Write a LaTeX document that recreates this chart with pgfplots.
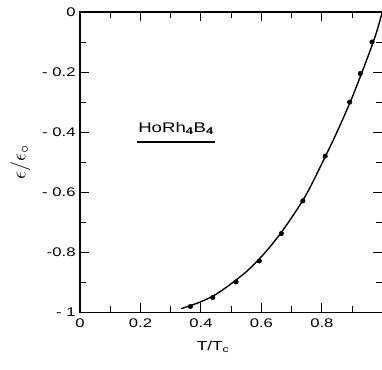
\documentclass[border=0pt]{standalone}
\usepackage{pgfplots}
\pgfplotsset{compat=1.18}
\usepackage{graphicx}
\usepackage{fontspec}
\setmainfont{Liberation Sans}[FakeStretch=1.33]
\begin{document}
\begin{tikzpicture}
\begin{axis}[
  scale only axis, width=302pt, height=300pt,
  xmin=0, xmax=1, ymin=-1, ymax=0,
  xtick={0,0.2,0.4,0.6,0.8,1}, xticklabels={0,0.2,0.4,0.6,0.8,},
  ytick={-1,-0.8,-0.6,-0.4,-0.2,0},
  yticklabels={- 1,-0.8,- 0.6,- 0.4,- 0.2,0},
  minor x tick num=1, minor y tick num=1,
  tick align=inside,
  major tick length=9pt, minor tick length=6pt,
  axis line style={line width=1.3pt},
  tick style={line width=1pt, black},
  ticklabel style={font=\fontsize{12.5}{14}\selectfont},
  xticklabel style={yshift=-3pt},
  yticklabel style={xshift=-1pt},
  xlabel={T/T\textsubscript{c}},
  xlabel style={at={(ticklabel cs:0.44)}, anchor=north, font=\fontsize{13}{15}\selectfont, yshift=-7pt},
  ylabel={\scalebox{2}{$\epsilon/\epsilon_{\circ}$}},
  ylabel style={yshift=5pt},
]
\addplot[black, line width=1.4pt, smooth, tension=0.5] coordinates {
(0.335,-0.988) (0.40,-0.965) (0.45,-0.94) (0.5,-0.905) (0.55,-0.865)
(0.6,-0.815) (0.65,-0.755) (0.7,-0.685) (0.75,-0.605) (0.8,-0.505)
(0.85,-0.40) (0.9,-0.285) (0.95,-0.155) (0.98,-0.07) (1.0,0)
};
\addplot[only marks, mark=*, mark size=2.3pt, black] coordinates {
(0.365,-0.981) (0.439,-0.951) (0.516,-0.899) (0.593,-0.829) (0.666,-0.738)
(0.737,-0.629) (0.811,-0.48) (0.892,-0.30) (0.927,-0.205) (0.966,-0.10)
};
\node[font=\fontsize{14}{16}\selectfont, anchor=base west, inner sep=0pt] at (axis cs:0.192,-0.40) {HoRh\textsubscript{\textbf{4}}B\textsubscript{\textbf{4}}};
\draw[line width=1.2pt] (axis cs:0.189,-0.433) -- (axis cs:0.447,-0.433);
\end{axis}
\pgfresetboundingbox
\useasboundingbox ([xshift=-80pt,yshift=-57pt]current axis.south west) rectangle ([xshift=-0.3pt,yshift=12pt]current axis.north east);
\end{tikzpicture}
\end{document}
